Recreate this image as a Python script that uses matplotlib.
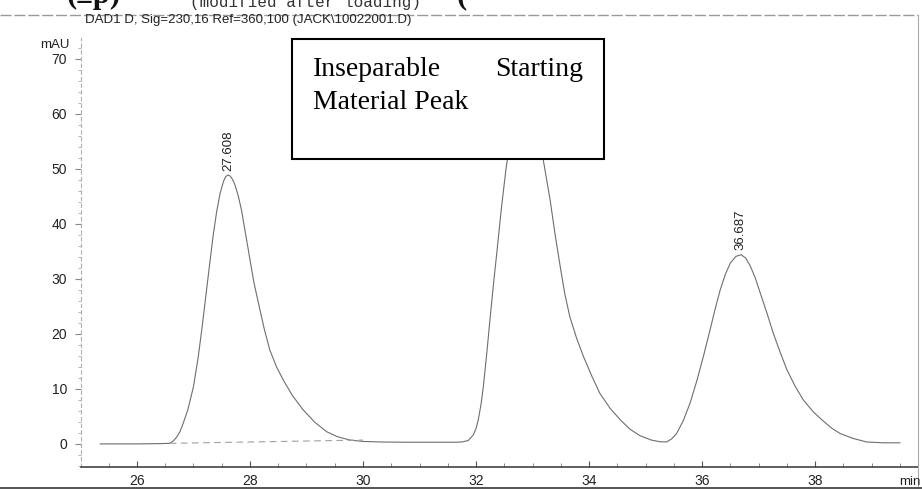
import matplotlib
matplotlib.use('Agg')
import matplotlib.pyplot as plt
from matplotlib.patches import Rectangle
from matplotlib.ticker import MultipleLocator
from matplotlib.lines import Line2D

# DAD signal trace (time in min, signal in mAU)
time_min = [25.35, 26.0, 26.4, 26.58, 26.65, 26.7, 26.76, 26.82, 26.9, 27.0,
            27.08, 27.15, 27.22, 27.29, 27.35, 27.41, 27.47, 27.53, 27.57, 27.61,
            27.65, 27.69, 27.73, 27.79, 27.85, 27.92, 28.0, 28.07, 28.15, 28.25,
            28.35, 28.47, 28.59, 28.75, 28.94, 29.15, 29.36, 29.55, 29.77, 30.0,
            30.3, 30.8, 31.2, 31.6, 31.75, 31.86, 31.95, 32.0, 32.04, 32.09,
            32.13, 32.19, 32.25, 32.31, 32.37, 32.45, 32.53, 32.6, 32.7, 32.85,
            33.0, 33.1, 33.19, 33.25, 33.31, 33.4, 33.49, 33.57, 33.66, 33.78,
            33.9, 34.05, 34.19, 34.37, 34.55, 34.72, 34.9, 35.1, 35.25, 35.37,
            35.46, 35.55, 35.67, 35.79, 35.91, 36.03, 36.14, 36.23, 36.32, 36.41,
            36.5, 36.6, 36.69, 36.77, 36.85, 36.94, 37.03, 37.15, 37.26, 37.38,
            37.5, 37.64, 37.79, 37.97, 38.15, 38.3, 38.44, 38.67, 38.91, 39.2,
            39.5]
signal_mau = [0.0, 0.0, 0.05, 0.1, 0.6, 1.2, 2.2, 3.8, 6.2, 10.4,
              15.5, 21.0, 27.0, 33.0, 38.0, 42.2, 45.5, 47.7, 48.6, 48.9,
              48.7, 48.1, 47.2, 45.2, 42.5, 38.3, 33.5, 29.3, 25.6, 21.0,
              17.1, 14.0, 11.6, 8.8, 6.2, 3.9, 2.2, 1.3, 0.7, 0.45,
              0.35, 0.3, 0.3, 0.3, 0.35, 0.6, 1.6, 2.8, 4.4, 7.3,
              10.5, 16.5, 23.0, 29.2, 35.0, 43.0, 50.0, 55.0, 59.0, 61.0,
              59.5, 56.0, 51.6, 48.0, 44.4, 38.0, 32.2, 27.3, 23.1, 19.2,
              15.9, 12.3, 9.2, 6.5, 4.4, 2.7, 1.5, 0.7, 0.4, 0.35,
              0.9, 1.9, 4.3, 7.5, 11.6, 16.2, 20.7, 24.5, 28.0, 30.8,
              32.9, 34.1, 34.4, 33.8, 32.4, 30.2, 27.4, 23.7, 20.1, 16.7,
              13.5, 10.6, 8.0, 5.8, 4.1, 2.8, 1.9, 1.0, 0.35, 0.2,
              0.2]

# integration baseline under the first peak
base_t = [26.58, 30.0]
base_a = [0.1, 0.7]

# labelled retention times and apex heights
peak_rt = [27.608, 36.687]
peak_h = [48.9, 34.4]

W, H = 922, 491
fig = plt.figure(figsize=(W / 100, H / 100), dpi=100)
fig.patch.set_facecolor('white')

ax = fig.add_axes([81 / W, 1 - 467 / H, (918 - 81) / W, (467 - 38) / H])
ax.plot(time_min, signal_mau, color='#6e6e6e', lw=0.8)
ax.plot(base_t, base_a, color='#a0a0a0', lw=0.8, ls=(0, (6, 4)))

for rt, h in zip(peak_rt, peak_h):
    ax.text(rt, h + 0.8, f'{rt:.3f}', rotation=90, ha='center', va='bottom',
            fontsize=9.5, family='Liberation Sans', color='#222222')

ax.set_xlim(25.01, 39.82)
ax.set_ylim(-4.2, 73.8)

for s in ['top', 'right']:
    ax.spines[s].set_visible(False)
ax.spines['bottom'].set_color('#444444')
ax.spines['bottom'].set_linewidth(1.2)
ax.spines['left'].set_color('#b0b0b0')
ax.spines['left'].set_linewidth(0.8)
ax.spines['left'].set_linestyle((0, (3, 3)))

ax.xaxis.set_major_locator(MultipleLocator(2))
ax.xaxis.set_minor_locator(MultipleLocator(0.5))
ax.yaxis.set_major_locator(MultipleLocator(10))
ax.yaxis.set_minor_locator(MultipleLocator(2))
ax.tick_params(axis='x', which='major', direction='in', length=4, color='#555555',
               labelsize=10, pad=5, labelcolor='#222222')
ax.tick_params(axis='x', which='minor', direction='in', length=3, color='#777777')
ax.tick_params(axis='y', which='major', direction='out', length=4, color='#888888',
               labelsize=10, pad=6, labelcolor='#222222')
ax.tick_params(axis='y', which='minor', direction='out', length=2, color='#aaaaaa')
for lab in ax.get_xticklabels() + ax.get_yticklabels():
    lab.set_family('Liberation Sans')

# page frame from the scan
fig.add_artist(Line2D([0, 918 / W], [1 - 15 / H] * 2, color='#999999', lw=1.0,
                      ls=(0, (8, 2))))
fig.add_artist(Line2D([918 / W] * 2, [1 - 15 / H, 1 - 488 / H], color='#aaaaaa', lw=0.8))
fig.add_artist(Line2D([0, 1], [1 - 488 / H] * 2, color='#555555', lw=1.4))

# header texts
fig.text(85 / W, 1 - 20 / H, r'DAD1 D, Sig=230,16 Ref=360,100 (JACK\10022001.D)',
         ha='left', va='center', fontsize=9.5, family='Liberation Sans', color='#222222')
fig.text(190 / W, 1 - 7.5 / H, '(modified after loading)', ha='left', va='baseline',
         fontsize=11.5, family='Liberation Mono', color='#333333')
fig.text(67 / W, 1 - 3 / H, '(±p)', ha='left', va='baseline', fontsize=22,
         family='Liberation Serif', weight='bold', color='#111111')
fig.text(457 / W, 1 - 3 / H, '(', ha='left', va='baseline', fontsize=22,
         family='Liberation Serif', weight='bold', color='#111111')
fig.text(70 / W, 1 - 45 / H, 'mAU', ha='right', va='center', fontsize=9.5,
         family='Liberation Sans', color='#222222')
fig.text(921 / W, 1 - 482 / H, 'min', ha='right', va='center', fontsize=9.5,
         family='Liberation Sans', color='#222222')

# annotation box over the second peak
fig.add_artist(Rectangle((292 / W, 1 - 159 / H), 312 / W, 120 / H,
                         transform=fig.transFigure, facecolor='white',
                         edgecolor='black', lw=1.5, zorder=5))
fig.text(313 / W, 1 - 76 / H, 'Inseparable', ha='left', va='baseline', fontsize=20,
         family='Liberation Serif', zorder=6)
fig.text(583 / W, 1 - 76 / H, 'Starting', ha='right', va='baseline', fontsize=20,
         family='Liberation Serif', zorder=6)
fig.text(313 / W, 1 - 109 / H, 'Material Peak', ha='left', va='baseline', fontsize=20,
         family='Liberation Serif', zorder=6)

fig.savefig('out.png', dpi=100)
